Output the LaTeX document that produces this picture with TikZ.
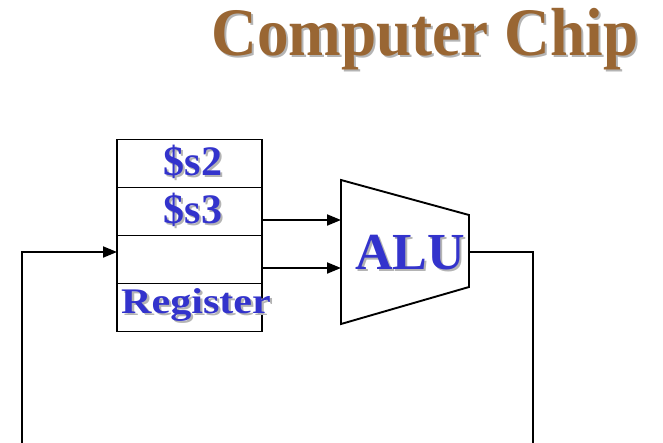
\documentclass[tikz,border=0pt]{standalone}
\usepackage{fontspec}
\setmainfont{Liberation Serif}
\usetikzlibrary{arrows.meta}
\definecolor{titlebrown}{HTML}{996633}
\definecolor{regblue}{HTML}{3333CC}
\definecolor{shade}{HTML}{B4B4B4}
% text with a soft grey drop shadow behind it
\newcommand\shtext[1]{\leavevmode\rlap{\kern2pt\raisebox{-2pt}{\textcolor{shade}{#1}}}#1}
\tikzset{
  wire/.style={line width=1.9pt, line join=miter},
  arr/.style={wire, -{Triangle[length=14pt,width=11pt]}},
  cell/.style={draw, line width=1.9pt, minimum width=145pt, minimum height=48pt, inner sep=0pt, outer sep=0pt},
  lbl/.style={text=regblue, font=\fontsize{42}{42}\selectfont\bfseries, inner sep=0pt, anchor=base},
}
\begin{document}
\begin{tikzpicture}[x=1pt,y=1pt]
\useasboundingbox (0,0) rectangle (663,-442);

% title
\node[text=titlebrown, font=\fontsize{68}{68}\selectfont\bfseries, inner sep=0pt, anchor=base] (title) at (425,-55)
  {\scalebox{0.93}[1]{\shtext{Computer Chip}}};

% register file
\node[cell] (r1) at (189.5,-163.5) {};
\node[cell] (r2) at (189.5,-211.5) {};
\node[cell] (r3) at (189.5,-259.5) {};
\node[cell] (r4) at (189.5,-307.5) {};
\node[lbl] (s2) at (193,-175) {\shtext{\$s2}};
\node[lbl] (s3) at (193,-223) {\shtext{\$s3}};
\node[lbl, font=\fontsize{36}{36}\selectfont\bfseries] (reg) at (196,-313)
  {\scalebox{1.17}[1]{\shtext{Register}}};

% ALU
\coordinate (aTL) at (341,-180);
\coordinate (aTR) at (469,-215);
\coordinate (aBR) at (469,-287);
\coordinate (aBL) at (341,-324);
\draw[wire] (aTL) -- (aTR) -- (aBR) -- (aBL) -- cycle;
\node[lbl, font=\fontsize{52}{52}\selectfont\bfseries] (alu) at (410,-269) {\shtext{ALU}};
\coordinate (in1) at (341,-220);
\coordinate (in2) at (341,-268);
\coordinate (out) at (469,-252);

% data paths
\draw[arr] (r2.east |- in1) -- (in1);
\draw[arr] (r3.east |- in2) -- (in2);
\coordinate (outEnd) at (533,-444);
\draw[wire] (out) -| (outEnd);
\coordinate (backStart) at (22,-444);
\coordinate (wrIn) at (117,-252);
\draw[arr] (backStart) |- (wrIn);
\end{tikzpicture}
\end{document}
